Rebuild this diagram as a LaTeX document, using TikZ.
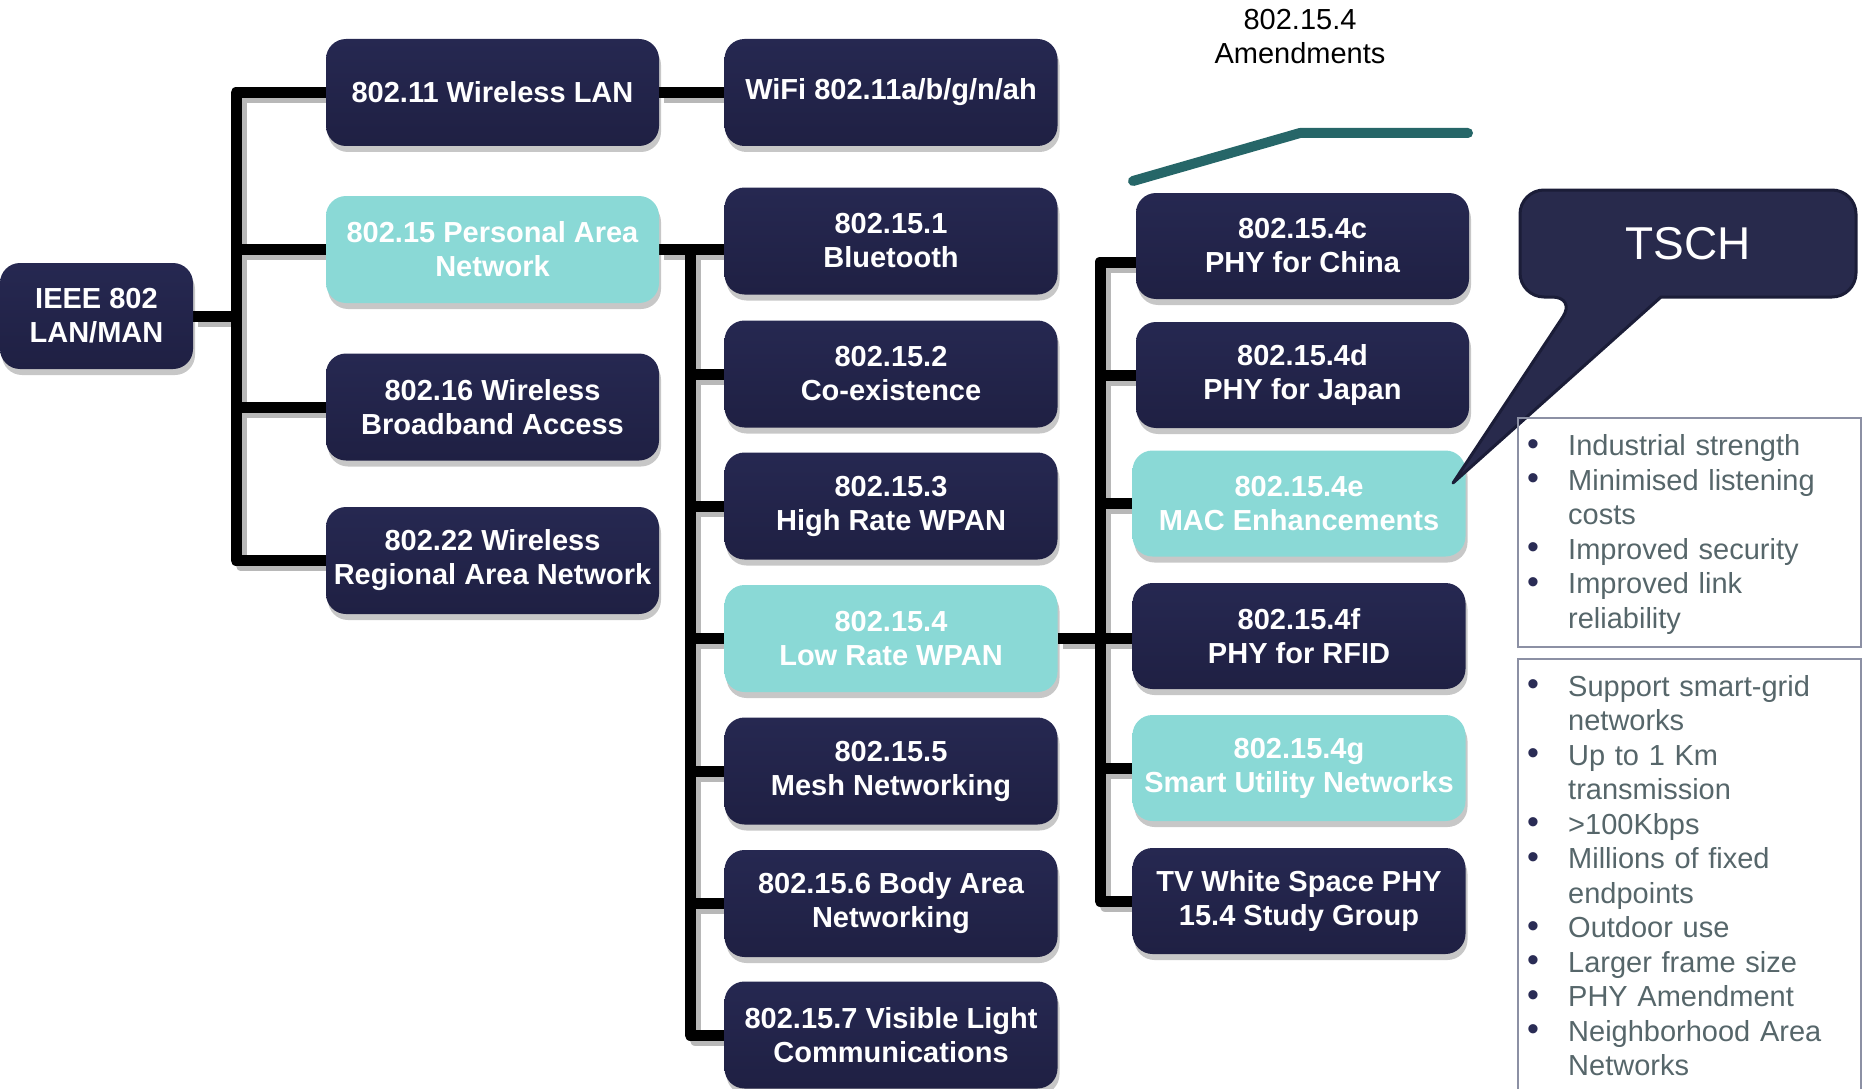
\documentclass[tikz,border=0pt]{standalone}
\usepackage{fontspec}
\setmainfont{Liberation Sans}
\usetikzlibrary{shadows,backgrounds}
\definecolor{navytop}{HTML}{262851}
\definecolor{navybot}{HTML}{1F2043}
\definecolor{aqua}{HTML}{8AD9D6}
\definecolor{tealline}{HTML}{266668}
\definecolor{tschfill}{HTML}{282A4C}
\definecolor{tschedge}{HTML}{1B1D38}
\definecolor{bullettext}{HTML}{56666A}
\definecolor{bulletnavy}{HTML}{2A2C55}
\definecolor{boxedge}{HTML}{8C90A4}

\newcommand\boxfont{\fontsize{29}{34}\selectfont\bfseries}
\newcommand\bulletdot{\raisebox{0.5pt}{\fontsize{34}{34}\selectfont\color{bulletnavy}\textbullet}}
\newcommand\bitem[1]{\par\noindent\hangindent=39pt\hangafter=1\makebox[39pt][l]{\hspace*{-2pt}\bulletdot}\strut#1\strut}

\tikzset{
 stdbox/.style={rounded corners=20pt, minimum width=333pt, minimum height=107pt, inner sep=0pt,
   align=center, font=\boxfont, text=white, top color=navytop, bottom color=navybot, draw=none,
   drop shadow={shadow xshift=2pt, shadow yshift=-6pt, opacity=0.22, fill=black}},
 hibox/.style={stdbox, top color=aqua, bottom color=aqua},
 conn/.style={line width=11pt, line join=round},
 listtext/.style={anchor=north west, inner sep=0pt, text width=330pt,
   font=\fontsize{29}{34.5}\selectfont, text=bullettext},
 listframe/.style={draw=boxedge, line width=2pt},
}

\newcommand\drawconns[1]{%
 \draw[conn,draw=#1] (l11.west) -- (l11.west -| j1x) -- (l22.west -| j1x) -- (l22.west);
 \draw[conn,draw=#1] (ieee.east) -- (ieee.east -| j1x);
 \draw[conn,draw=#1] (l15.west) -- (l15.west -| j1x);
 \draw[conn,draw=#1] (l16.west) -- (l16.west -| j1x);
 \draw[conn,draw=#1] (l11.east) -- (wifi.west);
 \draw[conn,draw=#1] (l15.east) -- (b1.west |- l15.east);
 \draw[conn,draw=#1] (l15.east -| j2x) -- (b7.west -| j2x) -- (b7.west);
 \foreach \n in {b2,b3,b4,b5,b6} {\draw[conn,draw=#1] (\n.west -| j2x) -- (\n.west);}
 \draw[conn,draw=#1] (b4.east) -- (f.west |- b4.east);
 \draw[conn,draw=#1] ([yshift=-16pt]c.west) -- ([yshift=-16pt]c.west -| j3x) -- (tv.west -| j3x) -- (tv.west);
 \foreach \n in {d,e,g} {\draw[conn,draw=#1] (\n.west -| j3x) -- (\n.west);}
}

\begin{document}
\begin{tikzpicture}[x=1pt,y=-1pt]
\useasboundingbox (0,0) rectangle (1864,1089);

% column 1
\node[stdbox, minimum width=193pt, minimum height=106pt] (ieee) at (96.5,316) {IEEE 802\\LAN/MAN};
% column 2
\node[stdbox] (l11) at (492.5,92.5) {802.11 Wireless LAN};
\node[hibox]  (l15) at (492.5,249.5) {802.15 Personal Area\\Network};
\node[stdbox] (l16) at (492.5,407) {802.16 Wireless\\Broadband Access};
\node[stdbox] (l22) at (492.5,560.5) {802.22 Wireless\\Regional Area Network};
% column 3
\node[stdbox] (wifi) at (891,92.5) {WiFi 802.11a/b/g/n/ah};
\node[stdbox] (b1) at (891,241) {802.15.1\\Bluetooth};
\node[stdbox] (b2) at (891,374) {802.15.2\\Co-existence};
\node[stdbox] (b3) at (891,506) {802.15.3\\High Rate WPAN};
\node[hibox]  (b4) at (891,638.5) {802.15.4\\Low Rate WPAN};
\node[stdbox] (b5) at (891,771) {802.15.5\\Mesh Networking};
\node[stdbox] (b6) at (891,903.5) {802.15.6 Body Area\\Networking};
\node[stdbox] (b7) at (891,1035) {802.15.7 Visible Light\\Communications};
% column 4
\node[stdbox, minimum height=106pt] (c) at (1302.5,246) {802.15.4c\\PHY for China};
\node[stdbox, minimum height=106pt] (d) at (1302.5,375) {802.15.4d\\PHY for Japan};
\node[hibox,  minimum height=106pt] (e) at (1299,503.5) {802.15.4e\\MAC Enhancements};
\node[stdbox, minimum height=106pt] (f) at (1299,636) {802.15.4f\\PHY for RFID};
\node[hibox,  minimum height=106pt] (g) at (1299,768) {802.15.4g\\Smart Utility Networks};
\node[stdbox, minimum height=106pt] (tv) at (1299,901) {TV White Space PHY\\15.4 Study Group};

% trunk positions
\coordinate (j1x) at (236,0);
\coordinate (j2x) at (690,0);
\coordinate (j3x) at (1100,0);

\begin{pgfonlayer}{background}
 \begin{scope}[transform canvas={shift={(5pt,-5pt)}}]
  \drawconns{black!28}
 \end{scope}
 \drawconns{black}
\end{pgfonlayer}

% amendments bracket and label
\coordinate (t0) at (1133,181);
\coordinate (t1) at (1300,133);
\coordinate (t2) at (1468,133);
\draw[line width=10pt, draw=tealline, line cap=round, line join=round] (t0) -- (t1) -- (t2);
\node[font=\fontsize{29}{34}\selectfont, align=center] (amd) at (1300,37) {802.15.4\\Amendments};

% TSCH callout
\path[fill=tschfill, draw=tschedge, line width=3pt, line join=round]
  (1453,483) -- (1661,297) -- (1700,297) [rounded corners=24pt]
  -- (1856,297) -- (1856,190) -- (1520,190) -- (1520,297) -- (1576,297) [sharp corners] -- cycle;
\node[font=\fontsize{46}{50}\selectfont, text=white] (tsch) at (1688,244) {TSCH};

% bullet lists
\draw[listframe] (1518,418) rectangle (1861,647);
\draw[listframe] (1518,659) rectangle (1861,1100);
\node[listtext] (list1) at (1529,421) {%
 \bitem{Industrial strength}%
 \bitem{Minimised listening\newline costs}%
 \bitem{Improved security}%
 \bitem{Improved link\newline reliability}\par};
\node[listtext] (list2) at (1529,661.5) {%
 \bitem{Support smart-grid\newline networks}%
 \bitem{Up to 1 Km\newline transmission}%
 \bitem{>100Kbps}%
 \bitem{Millions of fixed\newline endpoints}%
 \bitem{Outdoor use}%
 \bitem{Larger frame size}%
 \bitem{PHY Amendment}%
 \bitem{Neighborhood Area\newline Networks}\par};
\end{tikzpicture}
\end{document}
